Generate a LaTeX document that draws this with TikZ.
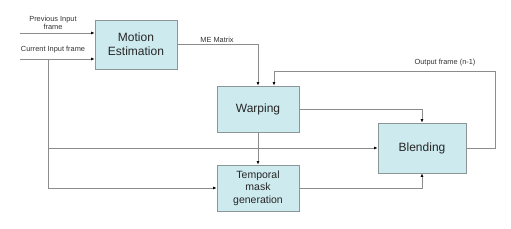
\documentclass[tikz,border=0pt]{standalone}
\usepackage{fontspec}
\setmainfont{Liberation Sans}
\usepackage{tikz}
\usetikzlibrary{arrows.meta,positioning,calc}
\definecolor{boxfill}{RGB}{205,234,238}
\definecolor{boxline}{RGB}{140,150,152}
\definecolor{wire}{RGB}{140,140,140}

\begin{document}
\begin{tikzpicture}[x=1pt, y=-1pt,
    block/.style={draw=boxline, fill=boxfill, line width=0.9pt, align=center, inner sep=0pt, text=black!85},
    arr/.style={draw=wire, line width=0.9pt, -{Latex[length=3.5pt,width=3pt,color=black]}},
    wireline/.style={draw=wire, line width=0.9pt},
    lbl/.style={font=\fontsize{7.4}{8.4}\selectfont, text=black!80, align=center}]
    \useasboundingbox (0,0) rectangle (511,229);

    % Blocks
    \node[block, minimum width=82pt, minimum height=49pt, font=\fontsize{12}{14}\selectfont] (me) at (136,44.5) {Motion\\Estimation};
    \node[block, minimum width=82pt, minimum height=46pt, font=\fontsize{12}{14}\selectfont] (warp) at (258,109) {Warping};
    \node[block, minimum width=88pt, minimum height=50pt, font=\fontsize{12}{14}\selectfont] (blend) at (422,148) {Blending};
    \node[block, minimum width=82pt, minimum height=46pt, font=\fontsize{10.5}{12.5}\selectfont] (mask) at (258,188) {Temporal\\mask\\generation};

    % Inputs
    \coordinate (prev) at (20,33);
    \coordinate (cur) at (20,59);
    \coordinate (split) at (48,59);
    \coordinate (tap) at (48,148);
    \draw[arr] (prev) -- (prev -| me.west);
    \draw[arr] (cur) -- (cur -| me.west);
    \node[lbl] at (53,23) {Previous Input\\frame};
    \node[lbl] at (53,50) {Current Input frame};

    % Current frame branches
    \draw[arr] (split) |- (mask.west);
    \draw[arr] (tap) -- (blend.west);

    % Motion estimation to warping
    \draw[arr] (me.east) -| (warp.north);
    \node[lbl] at (217,39.5) {ME Matrix};

    % Feedback of output frame
    \coordinate (outr) at (495,148);
    \coordinate (outt) at (495,71);
    \coordinate (feed) at (274,71);
    \draw[arr] (blend.east) -- (outr) -- (outt) -- (feed) -- (feed |- warp.north);
    \node[lbl] at (445,63) {Output frame (n-1)};

    % Warping and mask to blending
    \draw[arr] (warp.east) -| (blend.north);
    \draw[arr] (warp.south) -- (mask.north);
    \draw[arr] (mask.east) -| (blend.south);
\end{tikzpicture}
\end{document}
